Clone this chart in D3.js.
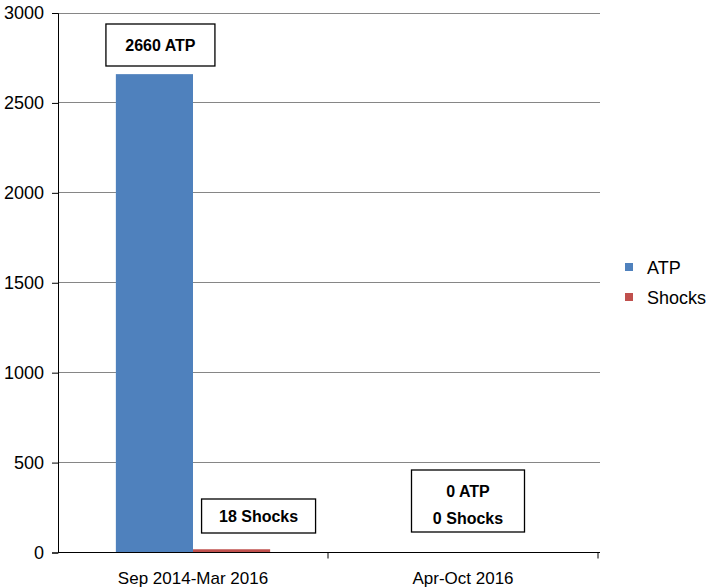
<!DOCTYPE html>
<html><head><meta charset="utf-8">
<script src="https://cdn.jsdelivr.net/npm/d3@7"></script>
<style>body{margin:0;background:#fff}svg{display:block;font-family:"Liberation Sans",Arial,sans-serif}</style>
</head><body><svg id="c" width="709" height="588"></svg>
<script>
const categories = ["Sep 2014-Mar 2016", "Apr-Oct 2016"];
const seriesNames = ["ATP", "Shocks"];
const atpValues = [2660, 0];
const shockValues = [18, 0];
const yTicks = [0, 500, 1000, 1500, 2000, 2500, 3000];
const colors = ["#4F81BD", "#C0504D"];

const svg = d3.select("#c");
const x0 = 58, x1 = 598, yTop = 13, yBot = 552.5;
const x = d3.scaleBand().domain(categories).range([x0, x1]);
const y = d3.scaleLinear().domain([0, 3000]).range([yBot, yTop]);
const bw = x.bandwidth() / 3.5;
const xs = d3.scaleBand().domain(seriesNames).range([0, 2 * bw]);

// gridlines
svg.append("g").selectAll("line").data(yTicks.filter(d => d > 0)).join("line")
  .attr("x1", x0).attr("x2", x1 + 2).attr("y1", d => y(d)).attr("y2", d => y(d))
  .attr("stroke", "#868686").attr("stroke-width", 1).attr("shape-rendering", "crispEdges");

// bars
const data = categories.map((c, i) => ({c, vals: [atpValues[i], shockValues[i]]}));
const groups = svg.append("g").selectAll("g").data(data).join("g")
  .attr("transform", d => `translate(${x(d.c) + (x.bandwidth() - 2 * bw) / 2},0)`);
groups.selectAll("rect").data(d => d.vals.map((v, j) => ({v, s: seriesNames[j], j}))).join("rect")
  .attr("x", d => xs(d.s)).attr("width", xs.bandwidth())
  .attr("y", d => y(d.v)).attr("height", d => yBot - y(d.v))
  .attr("fill", d => colors[d.j]);

// y axis
const yAxis = d3.axisLeft(y).tickValues(yTicks).tickSize(6).tickPadding(8).tickFormat(d3.format("d"));
const ga = svg.append("g").attr("transform", `translate(${x0},0)`).call(yAxis);
ga.select(".domain").attr("stroke", "#000");
ga.selectAll(".tick line").attr("stroke", "#000");
ga.selectAll("text").attr("font-size", 18).attr("fill", "#000").attr("font-family", "Liberation Sans, Arial, sans-serif");

// x axis
const xAxis = d3.axisBottom(x).tickSize(0).tickPadding(19);
const gx = svg.append("g").attr("transform", `translate(0,${yBot})`).call(xAxis);
gx.select(".domain").attr("stroke", "#000").attr("d", `M${x0},0H${x1 + 2}`);
gx.selectAll("text").attr("font-size", 17).attr("fill", "#000").attr("font-family", "Liberation Sans, Arial, sans-serif");
// category separator ticks
svg.append("g").selectAll("line").data(categories).join("line")
  .attr("x1", d => x(d) + x.bandwidth()).attr("x2", d => x(d) + x.bandwidth())
  .attr("y1", yBot).attr("y2", yBot + 6).attr("stroke", "#000");

// data label boxes
function labelBox(cx, cy, w, h, lines, lh, dyOff) {
  const g = svg.append("g");
  g.append("rect").attr("x", cx - w / 2).attr("y", cy - h / 2).attr("width", w).attr("height", h)
    .attr("fill", "#fff").attr("stroke", "#000").attr("stroke-width", 1.3);
  lines.forEach((t, i) => {
    g.append("text").attr("x", cx).attr("y", cy + dyOff + (i - (lines.length - 1) / 2) * lh)
      .attr("dy", "0.35em").attr("text-anchor", "middle").attr("font-weight", "bold")
      .attr("font-size", 16).attr("fill", "#000").text(t);
  });
}
const c0 = x(categories[0]) + (x.bandwidth() - 2 * bw) / 2;
labelBox(c0 + xs("ATP") + xs.bandwidth() / 2 + 6, 45, 109, 42, [`${atpValues[0]} ATP`], 0, 0);
labelBox(c0 + xs("Shocks") + xs.bandwidth() / 2 + 27, 516, 114, 34, [`${shockValues[0]} Shocks`], 0, 0);
labelBox(x(categories[1]) + x.bandwidth() / 2 + 5, 501, 113, 62, [`${atpValues[1]} ATP`, `${shockValues[1]} Shocks`], 27, 4);

// legend
const lg = svg.append("g").attr("transform", "translate(625,262)");
seriesNames.forEach((s, i) => {
  lg.append("rect").attr("x", 0).attr("y", i * 30 + 1).attr("width", 8).attr("height", 8).attr("fill", colors[i]);
  lg.append("text").attr("x", 22).attr("y", i * 30 + 6).attr("dy", "0.35em").attr("font-size", 18).attr("fill", "#000").text(s);
});
</script></body></html>
